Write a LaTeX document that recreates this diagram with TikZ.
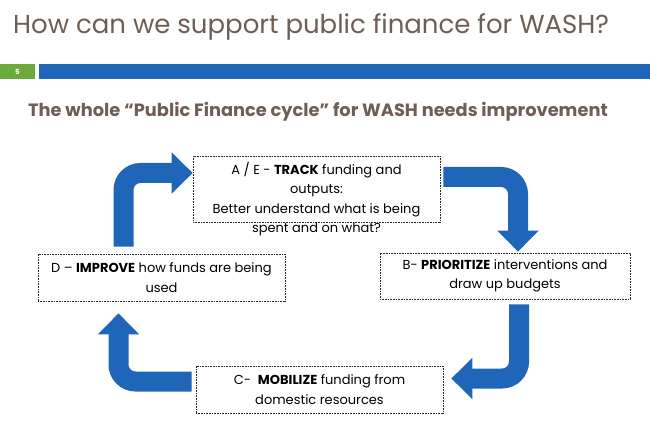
\documentclass[tikz,border=0pt]{standalone}
\usepackage{fontspec}
\setmainfont{Poppins}
\usetikzlibrary{arrows.meta}
\definecolor{slideblue}{RGB}{31,101,184}
\definecolor{slidegreen}{RGB}{108,170,60}
\definecolor{titlebrown}{RGB}{110,94,86}

\begin{document}
\begin{tikzpicture}[x=1pt, y=-1pt,
    stepbox/.style={draw=black!85, dash pattern=on 1pt off 0.6pt, line width=0.7pt, align=center,
       font=\fontsize{13}{19.5}\selectfont, inner sep=0pt, minimum width=247pt},
    cyc/.style={draw=slideblue, line width=20pt, rounded corners=17pt,
       -{Triangle[width=40pt, length=21pt]}}]
  \fill[white] (0,0) rectangle (650,435);
  \useasboundingbox (0,0) rectangle (650,435);
  % header
  \node[anchor=base west, inner sep=0pt, text=titlebrown,
        font=\fontsize{26}{30}\selectfont] (title) at (13,34)
        {How can we support public finance for WASH?};
  \fill[slidegreen] (0,64) rectangle (35,79);
  \fill[slideblue] (39,64) rectangle (650,79);
  \node[text=white, font=\bfseries\fontsize{7}{8}\selectfont] (pageno) at (17.5,71.5) {5};
  \node[anchor=base west, inner sep=0pt, text=titlebrown,
        font=\bfseries\fontsize{17.8}{21}\selectfont] (subtitle) at (28,117)
        {The whole ``Public Finance cycle'' for WASH needs improvement};
  % the four steps
  \node[stepbox, minimum height=66pt, label={[align=center, yshift=-10pt,
        font=\fontsize{13}{19.5}\selectfont]center:{A / E - \textbf{TRACK} funding and\\outputs:\\
        Better understand what is being\\spent and on what?}}] (track) at (316.5,189) {};
  \node[stepbox, minimum width=250pt, minimum height=46pt] (prio) at (505,276)
        {B- \textbf{PRIORITIZE} interventions and\\draw up budgets};
  \node[stepbox, minimum height=47pt] (mobil) at (319.5,389.5)
        {C-\ \ \textbf{MOBILIZE} funding from\\domestic resources};
  \node[stepbox, minimum height=47pt] (improve) at (161.5,277.5)
        {D -- \textbf{IMPROVE} how funds are being\\used};
  % cycle arrows
  \draw[cyc] ([xshift=-38pt, yshift=7pt]improve.north) |- ([yshift=16pt]track.west);
  \draw[cyc] ([xshift=3pt, yshift=12pt]track.east) -| ([xshift=13pt, yshift=1pt]prio.north);
  \draw[cyc] ([xshift=14pt, yshift=-5pt]prio.south) |- ([xshift=8pt, yshift=11pt]mobil.east);
  \draw[cyc] ([xshift=-4pt, yshift=8pt]mobil.west) -| ([xshift=-43pt, yshift=-12pt]improve.south);
\end{tikzpicture}
\end{document}
